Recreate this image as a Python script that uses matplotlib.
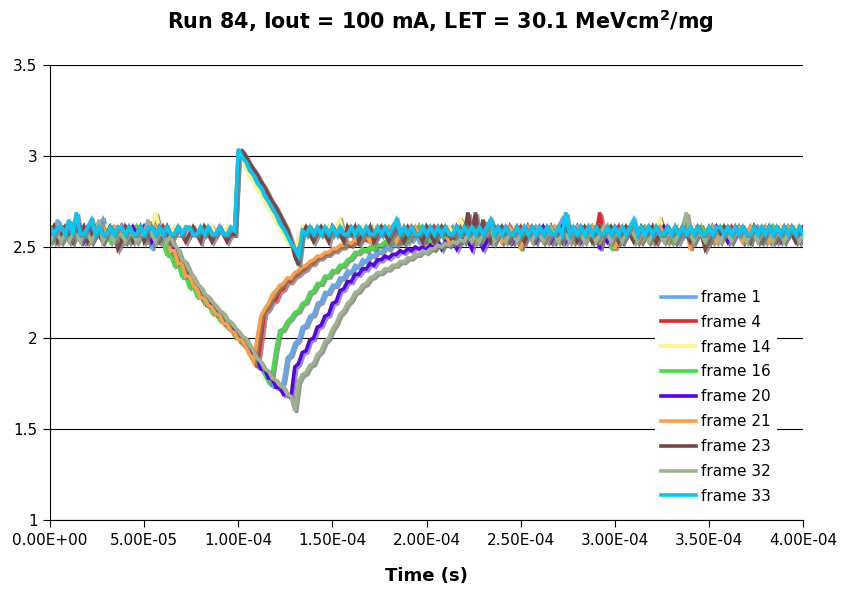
import numpy as np
import matplotlib
matplotlib.use("Agg")
import matplotlib.pyplot as plt
import matplotlib.patheffects as pe
from matplotlib.lines import Line2D
from matplotlib.ticker import FuncFormatter, MultipleLocator

# scope samples, one every 2 us, values in units of 10 mV
sample_step = 2e-6

frame_1 = [
    261, 257, 265, 257, 261, 257, 261, 257, 257, 261,
    257, 261, 257, 261, 265, 257, 261, 257, 253, 261,
    257, 261, 257, 261, 257, 261, 257, 249, 261, 257,
    261, 257, 252, 247, 247, 239, 237, 236, 228, 227,
    226, 220, 222, 216, 217, 211, 212, 207, 207, 202,
    203, 197, 196, 191, 191, 185, 185, 180, 179, 174,
    175, 172, 176, 189, 191, 197, 199, 206, 207, 212,
    213, 219, 220, 225, 225, 229, 229, 233, 233, 237,
    236, 240, 239, 243, 242, 246, 245, 248, 247, 250,
    249, 252, 251, 254, 252, 255, 254, 257, 253, 257,
    261, 257, 253, 257, 261, 257, 257, 261, 257, 253,
    257, 261, 257, 257, 261, 253, 257, 261, 257, 257,
    261, 257, 253, 257, 261, 257, 261, 257, 257, 261,
    257, 261, 257, 253, 257, 261, 265, 257, 261, 257,
    257, 261, 257, 261, 253, 257, 261, 257, 261, 257,
    253, 257, 261, 257, 257, 261, 257, 261, 257, 253,
    257, 261, 257, 257, 261, 257, 261, 253, 257, 261,
    257, 261, 257, 261, 257, 253, 257, 261, 257, 257,
    261, 257, 261, 257, 253, 257, 261, 257, 261, 257,
    257, 261, 253, 257, 261, 257, 257, 261, 257, 261,
    257,
]

frame_4 = [
    257, 261, 257, 261, 261, 257, 261, 257, 257, 261,
    257, 261, 257, 257, 261, 257, 261, 257, 261, 257,
    257, 261, 257, 261, 257, 261, 257, 257, 261, 257,
    261, 255, 251, 245, 244, 241, 235, 235, 230, 225,
    225, 222, 218, 219, 213, 214, 211, 207, 207, 204,
    201, 201, 195, 194, 190, 184, 199, 214, 216, 220,
    221, 226, 227, 231, 231, 234, 235, 237, 238, 241,
    241, 244, 244, 246, 246, 248, 248, 250, 250, 252,
    251, 253, 252, 255, 254, 257, 253, 257, 261, 257,
    257, 261, 257, 253, 257, 261, 257, 257, 261, 257,
    253, 257, 261, 257, 257, 261, 257, 253, 257, 261,
    257, 257, 261, 257, 261, 257, 253, 257, 261, 257,
    257, 261, 257, 253, 257, 261, 257, 261, 257, 257,
    261, 257, 257, 261, 253, 257, 261, 257, 261, 257,
    257, 261, 257, 257, 261, 257, 269, 257, 261, 257,
    257, 261, 253, 257, 261, 257, 257, 261, 257, 261,
    257, 253, 257, 261, 257, 257, 261, 257, 261, 257,
    261, 257, 257, 261, 257, 253, 257, 261, 257, 261,
    257, 261, 257, 257, 261, 257, 261, 257, 253, 257,
    261, 257, 261, 257, 257, 261, 257, 261, 257, 257,
    261,
]

frame_14 = [
    257, 261, 257, 257, 261, 257, 261, 257, 261, 257,
    257, 261, 257, 261, 257, 261, 257, 257, 261, 257,
    261, 257, 261, 257, 257, 261, 257, 261, 269, 261,
    257, 261, 257, 261, 257, 257, 261, 257, 261, 257,
    261, 257, 257, 261, 257, 261, 257, 261, 257, 257,
    300, 298, 293, 289, 286, 282, 279, 275, 271, 268,
    264, 261, 257, 253, 251, 249, 255, 261, 257, 261,
    257, 261, 257, 257, 261, 257, 261, 265, 257, 261,
    257, 261, 257, 261, 257, 257, 261, 257, 261, 257,
    261, 257, 261, 257, 261, 257, 257, 261, 257, 261,
    257, 261, 257, 257, 261, 257, 261, 257, 261, 265,
    261, 257, 261, 257, 257, 261, 257, 261, 257, 261,
    257, 261, 257, 261, 257, 257, 261, 257, 261, 257,
    261, 257, 261, 257, 261, 257, 257, 261, 257, 261,
    257, 261, 257, 257, 261, 257, 261, 257, 261, 257,
    261, 257, 261, 257, 257, 261, 257, 261, 257, 261,
    257, 261, 265, 257, 261, 257, 257, 261, 257, 261,
    257, 261, 257, 261, 257, 257, 261, 257, 261, 257,
    261, 257, 261, 257, 261, 257, 257, 261, 257, 261,
    257, 261, 257, 257, 261, 257, 261, 257, 261, 257,
    261,
]

frame_16 = [
    257, 253, 257, 261, 257, 257, 253, 257, 261, 257,
    257, 253, 257, 257, 261, 257, 253, 257, 257, 261,
    257, 253, 257, 261, 257, 257, 253, 257, 261, 257,
    253, 246, 246, 240, 241, 234, 234, 228, 229, 223,
    224, 219, 220, 214, 215, 210, 211, 206, 207, 201,
    202, 197, 197, 191, 191, 186, 185, 180, 176, 180,
    194, 204, 205, 209, 211, 214, 215, 219, 220, 225,
    226, 230, 230, 234, 234, 237, 237, 240, 240, 243,
    244, 247, 247, 249, 248, 250, 249, 251, 251, 253,
    252, 254, 253, 255, 257, 253, 257, 257, 261, 253,
    257, 253, 257, 261, 257, 253, 257, 257, 261, 257,
    253, 257, 257, 261, 257, 253, 257, 261, 257, 257,
    253, 257, 261, 257, 257, 249, 257, 261, 257, 253,
    257, 257, 261, 257, 253, 257, 257, 261, 257, 253,
    257, 261, 257, 257, 253, 257, 249, 257, 261, 249,
    257, 253, 257, 261, 257, 257, 253, 257, 261, 257,
    253, 257, 257, 261, 257, 253, 257, 257, 261, 257,
    257, 253, 257, 261, 257, 257, 253, 257, 261, 257,
    253, 257, 257, 261, 257, 257, 253, 261, 257, 257,
    253, 257, 261, 257, 257, 253, 257, 261, 257, 257,
    253,
]

frame_20 = [
    257, 261, 257, 253, 257, 261, 257, 257, 261, 253,
    257, 261, 257, 257, 253, 257, 261, 257, 257, 261,
    253, 257, 261, 257, 257, 261, 257, 253, 257, 261,
    257, 257, 251, 249, 243, 242, 236, 235, 229, 229,
    224, 223, 218, 219, 214, 214, 209, 210, 205, 205,
    200, 200, 195, 194, 189, 189, 183, 183, 178, 178,
    173, 173, 169, 169, 167, 184, 186, 192, 193, 199,
    200, 206, 207, 212, 213, 219, 220, 226, 227, 231,
    231, 235, 235, 238, 238, 241, 240, 243, 243, 245,
    244, 246, 246, 248, 247, 249, 248, 250, 249, 250,
    249, 251, 249, 253, 249, 253, 251, 253, 249, 253,
    257, 253, 249, 257, 253, 249, 253, 257, 253, 257,
    253, 257, 261, 253, 257, 257, 253, 261, 257, 253,
    257, 261, 257, 253, 257, 257, 261, 253, 257, 257,
    261, 253, 257, 257, 261, 257, 249, 257, 253, 257,
    261, 257, 253, 257, 257, 261, 257, 253, 257, 261,
    257, 253, 257, 261, 257, 257, 253, 257, 261, 257,
    253, 257, 261, 257, 257, 253, 257, 261, 257, 257,
    253, 257, 261, 257, 253, 257, 257, 261, 257, 253,
    257, 261, 257, 257, 253, 257, 261, 257, 257, 253,
    257,
]

frame_21 = [
    261, 257, 261, 257, 257, 261, 257, 261, 257, 261,
    257, 257, 261, 257, 261, 257, 257, 261, 257, 261,
    257, 261, 257, 257, 261, 257, 261, 257, 261, 257,
    257, 253, 248, 248, 241, 241, 234, 234, 229, 227,
    222, 222, 218, 217, 213, 213, 208, 208, 204, 203,
    199, 199, 195, 191, 187, 200, 212, 216, 219, 224,
    226, 229, 230, 233, 233, 236, 237, 239, 240, 242,
    243, 245, 245, 247, 247, 249, 249, 251, 251, 253,
    252, 254, 253, 255, 257, 253, 257, 261, 257, 257,
    261, 257, 253, 257, 261, 257, 257, 261, 257, 253,
    257, 261, 257, 257, 261, 257, 253, 257, 261, 257,
    257, 261, 257, 253, 257, 261, 257, 257, 261, 257,
    253, 257, 261, 257, 257, 249, 257, 261, 257, 257,
    261, 257, 253, 257, 261, 257, 257, 261, 257, 253,
    257, 261, 257, 257, 261, 257, 253, 257, 261, 257,
    249, 257, 261, 257, 257, 261, 257, 253, 257, 261,
    257, 257, 261, 257, 253, 257, 261, 257, 257, 261,
    249, 257, 261, 257, 257, 261, 257, 253, 257, 261,
    257, 257, 261, 257, 253, 257, 261, 257, 257, 261,
    257, 253, 257, 261, 257, 257, 261, 257, 253, 257,
    261,
]

frame_23 = [
    257, 261, 253, 257, 261, 257, 253, 261, 257, 261,
    253, 257, 261, 257, 253, 257, 261, 257, 249, 253,
    261, 257, 253, 257, 261, 253, 257, 261, 257, 253,
    257, 261, 253, 257, 261, 257, 253, 257, 261, 257,
    253, 261, 257, 253, 257, 261, 257, 253, 257, 257,
    302, 303, 300, 296, 293, 290, 286, 283, 279, 275,
    272, 268, 264, 260, 254, 245, 240, 257, 261, 257,
    253, 257, 261, 257, 253, 261, 257, 257, 253, 261,
    257, 261, 253, 257, 257, 261, 253, 257, 261, 257,
    253, 257, 261, 257, 253, 257, 261, 257, 257, 253,
    261, 257, 253, 257, 261, 257, 257, 253, 261, 257,
    257, 269, 257, 269, 253, 265, 257, 253, 261, 257,
    261, 257, 253, 257, 261, 257, 253, 257, 261, 257,
    257, 253, 257, 261, 257, 257, 253, 261, 257, 257,
    253, 257, 261, 257, 253, 257, 261, 257, 257, 261,
    257, 253, 257, 261, 257, 253, 257, 261, 257, 257,
    261, 253, 257, 257, 261, 257, 253, 257, 261, 257,
    253, 257, 261, 257, 249, 253, 261, 257, 257, 261,
    257, 253, 257, 261, 257, 257, 253, 261, 257, 253,
    257, 261, 257, 253, 257, 261, 257, 257, 253, 257,
    261,
]

frame_32 = [
    253, 257, 257, 253, 257, 253, 257, 257, 253, 257,
    257, 253, 257, 265, 253, 257, 257, 253, 257, 257,
    253, 257, 257, 253, 257, 257, 265, 257, 253, 257,
    257, 253, 256, 251, 249, 243, 242, 237, 234, 230,
    228, 224, 223, 220, 218, 215, 214, 210, 209, 206,
    204, 201, 200, 196, 193, 189, 187, 183, 182, 178,
    177, 174, 173, 169, 168, 160, 176, 180, 181, 185,
    186, 191, 193, 198, 200, 205, 208, 213, 215, 219,
    221, 225, 226, 229, 230, 233, 234, 236, 236, 238,
    238, 240, 240, 242, 242, 244, 244, 246, 246, 248,
    247, 249, 249, 251, 250, 252, 251, 253, 252, 254,
    253, 257, 253, 257, 253, 257, 257, 265, 253, 257,
    257, 253, 257, 257, 253, 257, 261, 257, 253, 257,
    257, 253, 257, 261, 257, 253, 257, 257, 253, 257,
    261, 257, 253, 257, 257, 253, 257, 261, 257, 253,
    257, 257, 253, 257, 261, 257, 253, 257, 257, 253,
    257, 261, 257, 253, 257, 257, 253, 257, 261, 269,
    257, 253, 257, 257, 253, 257, 261, 257, 253, 257,
    257, 253, 257, 261, 257, 253, 257, 257, 253, 257,
    261, 257, 253, 257, 257, 253, 257, 261, 257, 253,
    257,
]

frame_33 = [
    261, 257, 261, 261, 257, 265, 257, 269, 257, 257,
    261, 265, 257, 261, 257, 257, 261, 257, 261, 261,
    257, 261, 257, 257, 261, 257, 261, 261, 257, 261,
    257, 261, 257, 257, 261, 257, 261, 261, 257, 257,
    261, 257, 261, 257, 257, 261, 257, 257, 261, 259,
    304, 299, 297, 292, 290, 285, 283, 278, 275, 271,
    268, 263, 260, 256, 252, 249, 245, 259, 257, 261,
    257, 261, 257, 261, 257, 261, 257, 261, 257, 257,
    261, 257, 261, 257, 261, 257, 257, 261, 257, 261,
    257, 261, 265, 257, 261, 257, 261, 257, 257, 261,
    257, 261, 257, 261, 257, 261, 257, 257, 261, 257,
    261, 257, 261, 257, 261, 257, 261, 265, 257, 261,
    257, 261, 257, 257, 261, 257, 261, 257, 261, 257,
    261, 257, 261, 257, 257, 261, 257, 269, 257, 261,
    257, 261, 257, 261, 257, 261, 257, 257, 261, 257,
    261, 257, 261, 257, 261, 265, 257, 261, 257, 261,
    257, 261, 257, 257, 261, 257, 261, 257, 261, 257,
    261, 257, 261, 257, 257, 261, 257, 261, 261, 257,
    261, 257, 261, 257, 261, 257, 257, 261, 257, 261,
    257, 261, 257, 261, 257, 261, 257, 261, 257, 261,
    257,
]

labels = ["frame 1", "frame 4", "frame 14", "frame 16", "frame 20",
          "frame 21", "frame 23", "frame 32", "frame 33"]
colors = ["#5FA8F5", "#E0282E", "#FFF38A", "#44DD44", "#5A00F0",
          "#FFA040", "#7A4545", "#9DB58E", "#00C8F8"]
series = [frame_1, frame_4, frame_14, frame_16, frame_20,
          frame_21, frame_23, frame_32, frame_33]

fig = plt.figure(figsize=(8.43, 5.89), dpi=100)
ax = fig.add_axes([0.0593, 0.1171, 0.8933, 0.7725])

shadow = [pe.SimpleLineShadow(offset=(1.4, -1.4), shadow_color="#7f7f7f", alpha=0.8),
          pe.Normal()]

for lab, vals, col in zip(labels, series, colors):
    v = np.array(vals) / 100.0
    t = np.arange(len(v)) * sample_step
    ax.plot(t, v, color=col, lw=2.6, label=lab, path_effects=shadow,
            solid_joinstyle="miter")

ax.set_xlim(0, 4e-4)
ax.set_ylim(1, 3.5)
ax.xaxis.set_major_locator(MultipleLocator(5e-5))
ax.yaxis.set_major_locator(MultipleLocator(0.5))
ax.xaxis.set_major_formatter(FuncFormatter(lambda x, p: f"{x:.2E}"))
ax.yaxis.set_major_formatter(FuncFormatter(lambda y, p: f"{y:g}"))

ax.yaxis.grid(True, color="black", lw=0.8)
ax.set_axisbelow(True)
ax.spines["top"].set_visible(False)
ax.spines["right"].set_visible(False)
ax.spines["left"].set_color("black")
ax.spines["bottom"].set_color("black")
ax.tick_params(axis="both", direction="out", length=5, width=0.8,
               labelsize=11, colors="black", pad=4)

ax.set_title(r"Run 84, Iout = 100 mA, LET = 30.1 MeVcm$^{\mathbf{2}}$/mg",
             fontsize=14.9, fontweight="bold", pad=26, x=0.519)
ax.set_xlabel("Time (s)", fontsize=13, fontweight="bold", labelpad=14)

handles = [Line2D([], [], color=c, lw=2.6) for c in colors]
leg = ax.legend(handles, labels, loc="upper left", bbox_to_anchor=(0.793, 0.536),
                fontsize=11, frameon=True, fancybox=False, edgecolor="none",
                facecolor="white", framealpha=1, handlelength=2.3,
                handletextpad=0.3, labelspacing=0.645, borderpad=0.4)

fig.savefig("out.png", dpi=100)
